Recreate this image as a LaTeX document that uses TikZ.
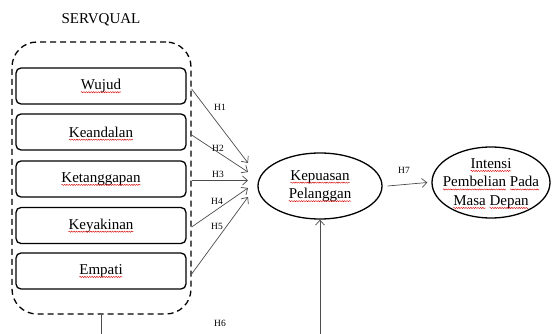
\documentclass[tikz,border=0pt]{standalone}
\usepackage{fontspec}
\setmainfont{Liberation Serif}
\usetikzlibrary{shapes.geometric,arrows.meta,decorations.pathmorphing}
\newcommand\rwave[1]{\begin{pgfinterruptpicture}\tikz[baseline=(w.base),x=1pt,y=1pt,sharp corners]{\node[shape=rectangle,draw=none,inner sep=0pt,outer sep=0pt,minimum width=0pt,minimum height=0pt](w){#1};\draw[overlay,red!85!black,line width=0.4pt,solid,decorate,decoration={snake,amplitude=0.6pt,segment length=2.4pt}] ([yshift=-2.6pt]w.base west) -- ([yshift=-2.6pt]w.base east);}\end{pgfinterruptpicture}}
\begin{document}
\begin{tikzpicture}[x=1pt,y=-1pt,
  factor/.style={draw, line width=1.3pt, rounded corners=5pt, minimum width=170pt, minimum height=36pt, font=\fontsize{15}{18}\selectfont},
  ell/.style={draw, ellipse, line width=1.3pt, inner sep=0pt},
  elltext/.style={align=center, inner sep=0pt, font=\fontsize{15}{18.5}\selectfont},
  arr/.style={draw=black!70, line width=0.7pt, -{Straight Barb[length=5pt,width=9pt]}},
  lab/.style={font=\fontsize{9.5}{11}\selectfont, inner sep=0pt}]
\useasboundingbox (0,0) rectangle (552,334);
\node[font=\fontsize{15}{18}\selectfont] (title) at (101,20) {SERVQUAL};
\node[draw, dash pattern=on 6pt off 4pt, line width=1.3pt, rounded corners=25pt, minimum width=179pt, minimum height=272pt] (grp) at (101.5,178) {};
\node[factor] (wujud) at (101,86) {\rwave{Wujud}};
\node[factor] (kean) at (101,132) {\rwave{Keandalan}};
\node[factor] (ketan) at (101,179) {\rwave{Ketanggapan}};
\node[factor] (keya) at (101,225.5) {\rwave{Keyakinan}};
\node[factor] (emp) at (101,271) {\rwave{Empati}};
\node[ell, minimum width=124pt, minimum height=66pt] (kp) at (320,186) {};
\node[elltext] (kpt) at (kp) {\rwave{Kepuasan}\\\rwave{Pelanggan}};
\node[ell, minimum width=118pt, minimum height=71pt] (int) at (491,182.5) {};
\node[elltext] (intt) at (491,183.5) {\rwave{Intensi}\\\rwave{Pembelian} \rwave{Pada}\\\rwave{Masa} \rwave{Depan}};
\coordinate (t1) at (248,163);
\coordinate (t2) at (248,172);
\coordinate (t3) at (248,180.5);
\coordinate (t4) at (248,188);
\coordinate (t5) at (248,197);
\draw[arr] (grp.east |- 0,89) -- (t1);
\draw[arr] (grp.east |- 0,135) -- (t2);
\draw[arr] (grp.east |- 0,180.5) -- (t3);
\draw[arr] (grp.east |- 0,227) -- (t4);
\draw[arr] (grp.east |- 0,274) -- (t5);
\draw[arr] ([xshift=5pt]kp.east) -- ([xshift=-4pt]int.west);
\coordinate (b1) at (grp.south |- 0,334);
\coordinate (b2) at (320,334);
\draw[black!70, line width=0.7pt] (grp.south) -- (b1);
\draw[arr] (b2) -- (kp.south);
\node[lab] at (220,107) {H1};
\node[lab] at (218,148) {H2};
\node[lab] at (218,174) {H3};
\node[lab] at (217,201) {H4};
\node[lab] at (217,226) {H5};
\node[lab] at (220,323) {H6};
\node[lab] at (404,170) {H7};
\end{tikzpicture}
\end{document}
